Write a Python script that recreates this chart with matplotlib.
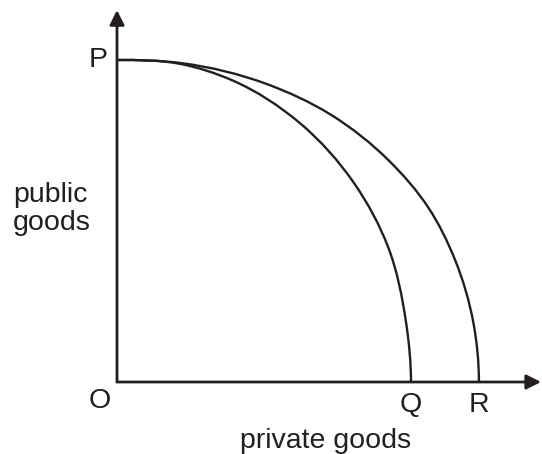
import matplotlib
matplotlib.use("Agg")
import matplotlib.pyplot as plt
from matplotlib.path import Path
from matplotlib.patches import PathPatch
import numpy as np

plt.rcParams['font.family'] = ['Liberation Sans', 'DejaVu Sans']

# PPF curves (P = 10 units)
inner_x = [0, 1.96, 3.60, 5.68, 7.36, 8.42, 8.98, 9.13]
inner_y = [10.0, 9.88, 9.36, 8.04, 6.18, 4.19, 1.83, 0]
outer_x = [0, 2.02, 4.66, 6.61, 8.48, 9.66, 10.50, 11.07, 11.24]
outer_y = [10.0, 9.90, 9.25, 8.32, 6.84, 5.43, 3.79, 1.83, 0]

point_labels = ["P", "O", "Q", "R"]
x_label = "private goods"
y_label = "public\ngoods"

ink = '#231f20'


def smooth_path(xs, ys):
    # smooth curve through the read points (Bessel tangents, cubic Bezier),
    # flat where it leaves the y axis and upright where it meets the x axis
    pts = np.column_stack([xs, ys]).astype(float)
    n = len(pts)
    seg = np.diff(pts, axis=0)
    d = np.linalg.norm(seg, axis=1)
    unit = seg / d[:, None]
    tang = np.zeros_like(pts)
    tang[0] = (1, 0)
    tang[-1] = (0, -1)
    for i in range(1, n - 1):
        w = d[i] / (d[i - 1] + d[i])
        t = w * unit[i - 1] + (1 - w) * unit[i]
        tang[i] = t / np.linalg.norm(t)
    verts = [pts[0]]
    codes = [Path.MOVETO]
    for i in range(n - 1):
        verts += [pts[i] + tang[i] * d[i] / 3,
                  pts[i + 1] - tang[i + 1] * d[i] / 3,
                  pts[i + 1]]
        codes += [Path.CURVE4] * 3
    return Path(verts, codes)


fig = plt.figure(figsize=(5.42, 4.54), dpi=100)
ax = fig.add_axes([0, 0, 1, 1])
ax.set_xlim(-3.634, 13.199)
ax.set_ylim(-2.236, 11.863)
ax.axis('off')

# axes with arrows
ax.annotate('', xy=(13.17, 0), xytext=(0, 0),
            arrowprops=dict(arrowstyle='-|>', lw=2, color=ink,
                            mutation_scale=22, shrinkA=0, shrinkB=0))
ax.annotate('', xy=(0, 11.55), xytext=(0, 0),
            arrowprops=dict(arrowstyle='-|>', lw=2, color=ink,
                            mutation_scale=22, shrinkA=0, shrinkB=0))

for xs, ys in [(inner_x, inner_y), (outer_x, outer_y)]:
    ax.add_patch(PathPatch(smooth_path(xs, ys), facecolor='none',
                           edgecolor=ink, lw=1.7, capstyle='butt'))

fs = 20.5
ax.text(-0.6, inner_y[0], point_labels[0], ha='center', va='center', fontsize=fs, color=ink)
ax.text(-0.53, -0.6, point_labels[1], ha='center', va='center', fontsize=fs, color=ink)
ax.text(inner_x[-1], -0.7, point_labels[2], ha='center', va='center', fontsize=fs, color=ink)
ax.text(outer_x[-1], -0.7, point_labels[3], ha='center', va='center', fontsize=fs, color=ink)
ax.text(-3.23, 6.22, y_label, ha='left', va='top', fontsize=fs, color=ink, linespacing=1.12)
ax.text(6.48, -2.05, x_label, ha='center', va='baseline', fontsize=fs, color=ink)

fig.savefig('out.png', dpi=100)
